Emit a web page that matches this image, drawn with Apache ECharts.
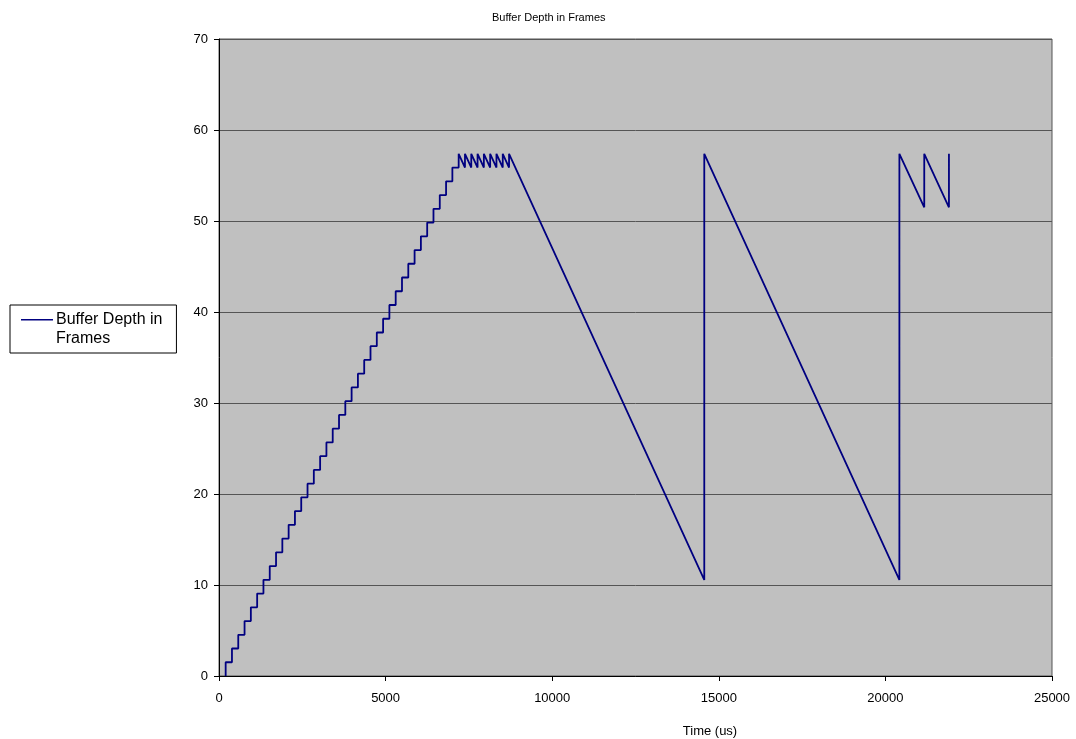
<!DOCTYPE html>
<html>
<head>
<meta charset="utf-8">
<title>Buffer Depth in Frames</title>
<script src="https://cdn.jsdelivr.net/npm/echarts@6/dist/echarts.min.js"></script>
<style>
  html, body { margin: 0; padding: 0; background: #fff; }
  #chart { width: 1076px; height: 739px; }
</style>
</head>
<body>
<div id="chart"></div>
<script>
// time (us) and buffer depth (frames)
const timeUs = [
  200, 200, 389, 389, 578, 578, 767, 767, 956, 956,
  1145, 1145, 1334, 1334, 1523, 1523, 1712, 1712, 1901, 1901,
  2090, 2090, 2279, 2279, 2468, 2468, 2657, 2657, 2846, 2846,
  3035, 3035, 3224, 3224, 3413, 3413, 3602, 3602, 3791, 3791,
  3980, 3980, 4169, 4169, 4358, 4358, 4547, 4547, 4736, 4736,
  4925, 4925, 5114, 5114, 5303, 5303, 5492, 5492, 5681, 5681,
  5870, 5870, 6059, 6059, 6248, 6248, 6437, 6437, 6626, 6626,
  6815, 6815, 7004, 7004,
  7193, 7193, 7382, 7382, 7571, 7571, 7760, 7760, 7949, 7949,
  8138, 8138, 8327, 8327, 8516, 8516, 8705, 8705,
  14564, 14564, 20420, 20420, 21166, 21166, 21907, 21907
]
const depth = [
  0, 1.51, 1.51, 3.02, 3.02, 4.53, 4.53, 6.04, 6.04, 7.55,
  7.55, 9.06, 9.06, 10.57, 10.57, 12.08, 12.08, 13.59, 13.59, 15.10,
  15.10, 16.61, 16.61, 18.12, 18.12, 19.63, 19.63, 21.14, 21.14, 22.65,
  22.65, 24.16, 24.16, 25.67, 25.67, 27.18, 27.18, 28.69, 28.69, 30.20,
  30.20, 31.71, 31.71, 33.22, 33.22, 34.73, 34.73, 36.24, 36.24, 37.75,
  37.75, 39.26, 39.26, 40.77, 40.77, 42.28, 42.28, 43.79, 43.79, 45.30,
  45.30, 46.81, 46.81, 48.32, 48.32, 49.83, 49.83, 51.34, 51.34, 52.85,
  52.85, 54.36, 54.36, 55.87,
  55.87, 57.38, 55.87, 57.38, 55.87, 57.38, 55.87, 57.38, 55.87, 57.38,
  55.87, 57.38, 55.87, 57.38, 55.87, 57.38, 55.87, 57.38,
  10.55, 57.38, 10.55, 57.38, 51.5, 57.38, 51.5, 57.38
]

const seriesName = 'Buffer Depth in Frames'
const FONT = 'Liberation Sans, Arial, sans-serif'

const chart = echarts.init(document.getElementById('chart'))

chart.setOption({
  animation: false,
  backgroundColor: '#fff',
  title: {
    text: 'Buffer Depth in Frames',
    left: 487,
    top: 7,
    textStyle: { fontSize: 11, fontWeight: 'normal', color: '#000', fontFamily: FONT }
  },
  legend: {
    data: [seriesName],
    left: 10,
    top: 305,
    orient: 'vertical',
    borderColor: '#000',
    borderWidth: 1,
    padding: [5, 14, 5, 11],
    itemWidth: 32,
    itemHeight: 20,
    // line sits at the top of the icon box so it lines up with the first text line
    icon: 'path://M0,0H32V1.6H0Z M0,20H0.01V20.01H0Z',
    itemGap: 0,
    formatter: () => 'Buffer Depth in\nFrames',
    textStyle: { fontSize: 16, color: '#000', fontFamily: FONT, lineHeight: 19, padding: [0, 0, 0, -2] }
  },
  grid: {
    left: 219, right: 24, top: 39, bottom: 63,
    outerBoundsMode: 'none',
    show: true,
    backgroundColor: '#c0c0c0',
    borderColor: '#555',
    borderWidth: 1
  },
  xAxis: {
    type: 'value',
    min: 0, max: 25000, interval: 5000,
    name: 'Time (us)',
    nameLocation: 'middle',
    nameGap: 49,
    nameTextStyle: { fontSize: 13, color: '#000', fontFamily: FONT, padding: [0, 0, 0, 149] },
    axisLine: { show: true, lineStyle: { color: '#000', width: 1 } },
    axisTick: { show: true, length: 5, lineStyle: { color: '#000' } },
    axisLabel: { fontSize: 13, color: '#000', fontFamily: FONT, margin: 16, formatter: v => String(v) },
    splitLine: { show: false }
  },
  yAxis: {
    type: 'value',
    min: 0, max: 70, interval: 10,
    axisLine: { show: true, lineStyle: { color: '#000', width: 1 } },
    axisTick: { show: true, length: 5, lineStyle: { color: '#000' } },
    axisLabel: { fontSize: 13, color: '#000', fontFamily: FONT, margin: 11 },
    splitLine: { show: true, lineStyle: { color: '#555', width: 1 } }
  },
  series: [{
    name: seriesName,
    type: 'line',
    data: timeUs.map((t, i) => [t, depth[i]]),
    showSymbol: false,
    symbol: 'none',
    lineStyle: { color: '#000080', width: 1.8 },
    itemStyle: { color: '#000080' }
  }]
})
</script>
</body>
</html>
